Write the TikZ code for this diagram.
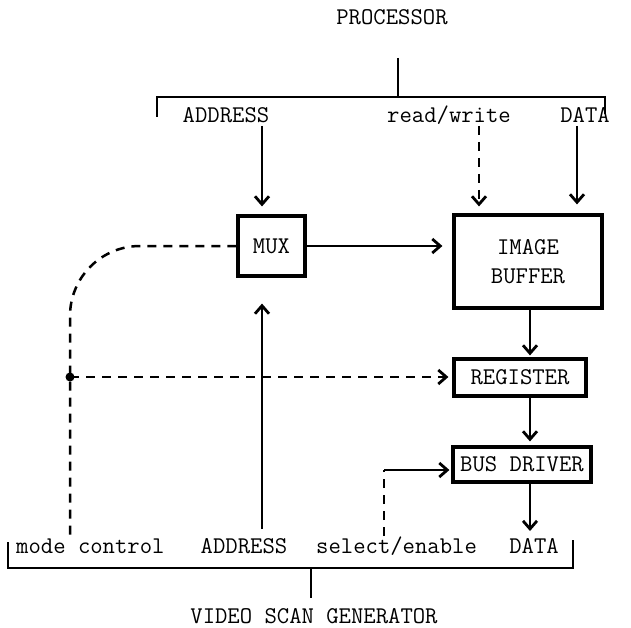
\documentclass[tikz,border=0pt]{standalone}
\usetikzlibrary{arrows.meta,calc}
\begin{document}
\begin{tikzpicture}[x=1pt,y=-1pt,
  txt/.style={font=\fontsize{24}{27}\selectfont\ttfamily, inner sep=0pt},
  blk/.style={draw, line width=3.2pt, font=\fontsize{24}{27}\selectfont\ttfamily, inner sep=0pt, align=center},
  conn/.style={line width=2.5pt},
  arr/.style={conn, -{Straight Barb[length=8pt,width=14pt,line width=2.8pt]}},
  dsh/.style={dash pattern=on 9pt off 7pt},
]
\useasboundingbox (0,0) rectangle (631,628);

% texts
\node[txt] (proc) at (392,17) {PROCESSOR};
\node[txt] (tAddr) at (226,115) {ADDRESS};
\node[txt] (tRW) at (449,115) {read/write};
\node[txt] (tData) at (585,115) {DATA};

\node[txt, anchor=west] (bMode) at (16,546) {mode control};
\node[txt] (bAddr) at (244,546) {ADDRESS};
\node[txt, anchor=west] (bSel) at (316,546) {select/enable};
\node[txt] (bData) at (534,546) {DATA};
\node[txt] (vsg) at (314,616) {VIDEO SCAN GENERATOR};

% blocks
\node[blk, minimum width=67pt, minimum height=60pt] (mux) at (271.5,246) {MUX};
\node[blk, minimum width=148pt, minimum height=93pt] (ib) at (528,261.5) {IMAGE\\[2pt]BUFFER};
\node[blk, minimum width=132pt, minimum height=37pt] (reg) at (520,377.5) {REGISTER};
\node[blk, minimum width=138pt, minimum height=35pt] (bd) at (522,464.5) {BUS DRIVER};

% top bracket
\coordinate (pStub) at (398,58);
\coordinate (tl) at (157,97);
\coordinate (tr) at (605,97);
\draw[conn] (pStub) -- (pStub |- tl);
\draw[conn] ($(tl)+(0,20)$) -- (tl) -- (tr) -- ($(tr)+(0,17)$);

% processor side arrows
\coordinate (aT) at (262,126);
\coordinate (rwT) at (479,126);
\coordinate (dT) at (577,126);
\draw[arr, shorten >=8pt] (aT) -- (aT |- mux.north);
\draw[arr, dsh, shorten >=7pt] (rwT) -- (rwT |- ib.north);
\draw[arr, shorten >=9pt] (dT) -- (dT |- ib.north);

% data path
\draw[arr, shorten >=10pt] (mux.east) -- (mux.east -| ib.west);
\coordinate (col) at (530,0);
\draw[arr, shorten >=2pt] (col |- ib.south) -- (col |- reg.north);
\draw[arr, shorten >=4pt] (col |- reg.south) -- (col |- bd.north);
\coordinate (dB) at (530,531);
\draw[arr] (dB |- bd.south) -- (dB);

% mode control
\coordinate (mB) at (70,535);
\coordinate (dot) at (70,377);
\draw[conn, dsh, rounded corners=70pt] (mux.west) -- (mB |- mux.west) -- (mB);
\fill (dot) circle (4.5pt);
\draw[arr, dsh, shorten >=4pt] (dot) -- (dot -| reg.west);

% address from scan generator
\coordinate (aB) at (262,529);
\draw[arr, shorten >=26pt] (aB) -- (aB |- mux.south);

% select/enable
\coordinate (sB) at (384,536);
\coordinate (se) at (384,470);
\draw[conn, dsh] (sB) -- (se);
\draw[arr, shorten >=2pt] (se) -- (se -| bd.west);

% bottom bracket
\coordinate (bl) at (8,568);
\coordinate (br) at (573,568);
\coordinate (vStub) at (311,568);
\draw[conn] ($(bl)+(0,-26)$) -- (bl) -- (br) -- ($(br)+(0,-28)$);
\draw[conn, shorten >=10pt] (vStub) -- (vStub |- vsg.north);
\end{tikzpicture}
\end{document}
